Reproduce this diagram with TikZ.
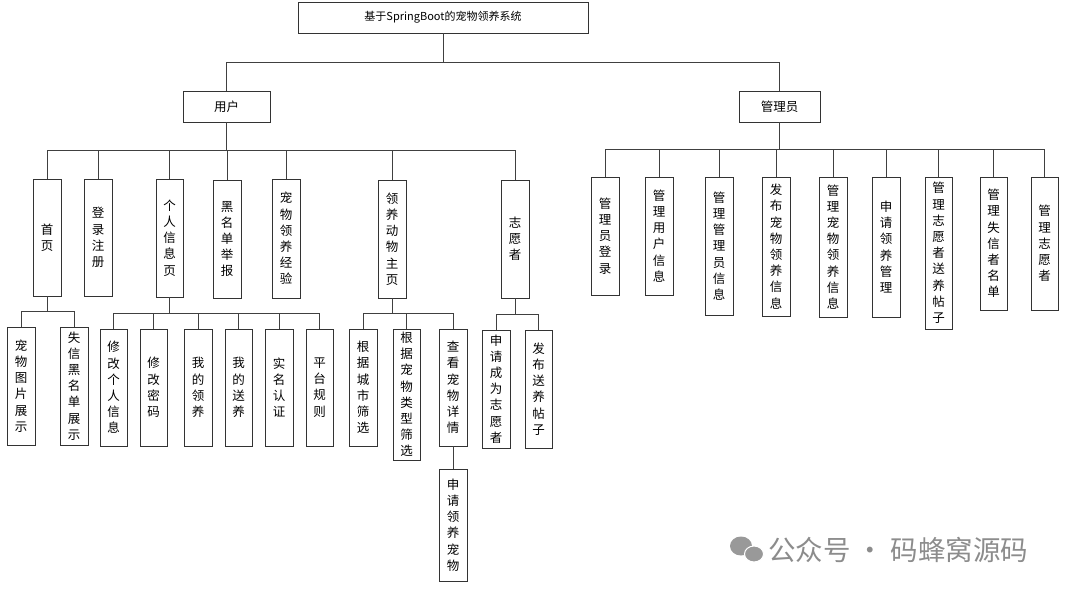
\documentclass[tikz,border=0pt]{standalone}
\usepackage{fontspec}
\newfontfamily\cjk{Noto Sans CJK SC}
\begin{document}
\begin{tikzpicture}[x=1pt,y=-1pt,
  box/.style={draw=black!80,line width=0.8pt,inner sep=0pt,align=center,font=\cjk\fontsize{12.5}{16.2}\selectfont},
  ln/.style={draw=black!75,line width=0.8pt}]
\useasboundingbox (0,0) rectangle (1080,595);
\newcommand\vb[6]{\node[box,minimum width=#4-#2,minimum height=#5-#3] (#1) at ({(#2+#4)/2},{(#3+#5)/2}) {#6};}
\node[box,minimum width=290,minimum height=31,font=\cjk\fontsize{11}{13}\selectfont] (root) at (443,17.5) {基于SpringBoot的宠物领养系统};
\vb{user}{183}{91}{270}{122}{用户}
\vb{admin}{739}{91}{820}{122}{管理员}
% user children
\vb{u1}{33}{179}{61}{296}{首\\页}
\vb{u2}{84}{179}{112}{296}{登\\录\\注\\册}
\vb{u3}{156}{179}{183}{297}{个\\人\\信\\息\\页}
\vb{u4}{213}{180}{241}{298}{黑\\名\\单\\举\\报}
\vb{u5}{272}{179}{300}{298}{宠\\物\\领\\养\\经\\验}
\vb{u6}{378}{180}{406}{298}{领\\养\\动\\物\\主\\页}
\vb{u7}{501}{180}{529}{298}{志\\愿\\者}
% level 2
\vb{a1}{7}{327}{35}{445}{宠\\物\\图\\片\\展\\示}
\vb{a2}{60}{327}{88}{445}{失\\信\\黑\\名\\单\\展\\示}
\vb{b1}{100}{329}{127}{446}{修\\改\\个\\人\\信\\息}
\vb{b2}{140}{329}{167}{446}{修\\改\\密\\码}
\vb{b3}{184}{329}{212}{446}{我\\的\\领\\养}
\vb{b4}{225}{329}{252}{446}{我\\的\\送\\养}
\vb{b5}{265}{329}{293}{446}{实\\名\\认\\证}
\vb{b6}{306}{329}{333}{446}{平\\台\\规\\则}
\vb{c1}{349}{329}{377}{446}{根\\据\\城\\市\\筛\\选}
\vb{c2}{393}{329}{420}{460}{根\\据\\宠\\物\\类\\型\\筛\\选}
\vb{c3}{439}{329}{467}{446}{查\\看\\宠\\物\\详\\情}
\vb{c4}{439}{469}{467}{581}{申\\请\\领\\养\\宠\\物}
\vb{d1}{482}{330}{510}{448}{申\\请\\成\\为\\志\\愿\\者}
\vb{d2}{525}{330}{552}{448}{发\\布\\送\\养\\帖\\子}
% admin children
\vb{m1}{591}{177}{619}{295}{管\\理\\员\\登\\录}
\vb{m2}{645}{177}{673}{295}{管\\理\\用\\户\\信\\息}
\vb{m3}{705}{177}{733}{315}{管\\理\\管\\理\\员\\信\\息}
\vb{m4}{762}{177}{790}{316}{发\\布\\宠\\物\\领\\养\\信\\息}
\vb{m5}{819}{177}{847}{317}{管\\理\\宠\\物\\领\\养\\信\\息}
\vb{m6}{872}{177}{900}{317}{申\\请\\领\\养\\管\\理}
\vb{m7}{925}{177}{952}{329}{管\\理\\志\\愿\\者\\送\\养\\帖\\子}
\vb{m8}{980}{177}{1007}{310}{管\\理\\失\\信\\者\\名\\单}
\vb{m9}{1031}{177}{1058}{310}{管\\理\\志\\愿\\者}
% connectors
\foreach \c in {user,admin} \draw[ln] (root.south) -- (root.south |- 0,62) -| (\c.north);
\foreach \c in {u1,u2,u3,u4,u5,u6,u7} \draw[ln] (user.south) -- (user.south |- 0,150) -| (\c.north);
\foreach \c in {m1,m2,m3,m4,m5,m6,m7,m8,m9} \draw[ln] (admin.south) -- (admin.south |- 0,149.5) -| (\c.north);
\foreach \c in {a1,a2} \draw[ln] (u1.south) -- (u1.south |- 0,311.5) -| (\c.north);
\foreach \c in {b1,b2,b3,b4,b5,b6} \draw[ln] (u3.south) -- (u3.south |- 0,313) -| (\c.north);
\foreach \c in {c1,c2,c3} \draw[ln] (u6.south) -- (u6.south |- 0,313) -| (\c.north);
\foreach \c in {d1,d2} \draw[ln] (u7.south) -- (u7.south |- 0,314) -| (\c.north);
\draw[ln] (c3.south) -- (c4.north);
% watermark
\node[text=black!45,font=\cjk\fontsize{27.5}{29}\selectfont,anchor=west,inner sep=0pt] (wm) at (768,550) {公众号 · 码蜂窝源码};
\fill[black!40] (741,546) ellipse (11 and 9.5);
\fill[black!40,draw=white,line width=1pt] (754,554) ellipse (9.5 and 8);
\end{tikzpicture}
\end{document}
